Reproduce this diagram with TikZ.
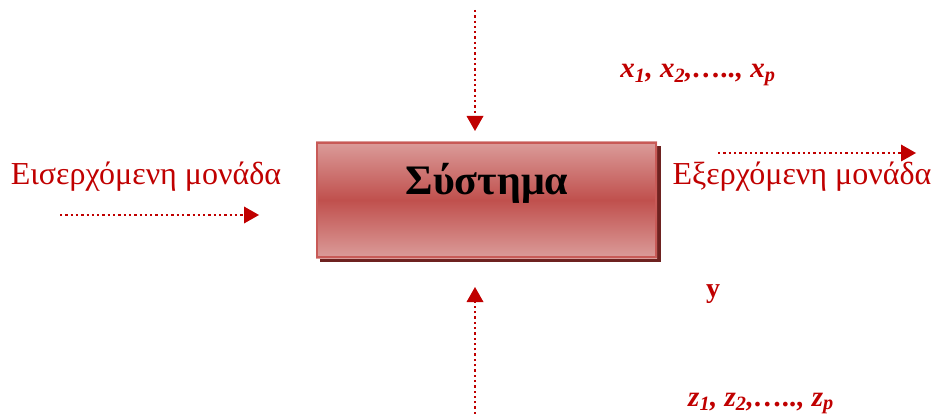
\documentclass[tikz,border=0pt]{standalone}
\usepackage{fontspec}
\setmainfont{Liberation Serif}
\usetikzlibrary{arrows.meta}
\definecolor{dred}{HTML}{C00000}
\definecolor{boxmid}{HTML}{C0504D}
\definecolor{boxlight}{HTML}{DB9C9A}
\definecolor{boxborder}{HTML}{C85A57}
\definecolor{shadowc}{HTML}{6E2220}
\tikzset{
  flow/.style={draw=dred, line width=2.3pt, dash pattern=on 2.3pt off 3pt,
    -{Triangle[length=15pt,width=17pt,fill=dred,line width=0pt]}},
  lbl/.style={text=dred, inner sep=0pt, anchor=base},
}
\begin{document}
\begin{tikzpicture}[x=1pt,y=-1pt]
\useasboundingbox (0,0) rectangle (934,414);
% box
\fill[shadowc] (320,146) rectangle (661,262);
\shade[top color=boxlight, bottom color=boxlight, middle color=boxmid] (316,142) rectangle (657,258);
\draw[boxborder, line width=2pt] (317,143) rectangle (656,257);
\node[inner sep=0pt, anchor=base, font=\fontsize{42}{44}\selectfont\bfseries] (sys) at (487,195) {Σύστημα};
% labels
\node[lbl, font=\fontsize{32}{34}\selectfont] (in) at (146,185) {Εισερχόμενη μονάδα};
\node[lbl, font=\fontsize{32}{34}\selectfont] (out) at (802,185) {Εξερχόμενη μονάδα};
\node[lbl, font=\fontsize{29}{31}\selectfont\bfseries\itshape] (xs) at (698,78) {x\textsubscript{1}, x\textsubscript{2},…..,~x\textsubscript{p}};
\node[lbl, font=\fontsize{28}{30}\selectfont\bfseries] (y) at (713,297) {y};
\node[lbl, font=\fontsize{29}{31}\selectfont\bfseries\itshape] (zs) at (761,406) {z\textsubscript{1}, z\textsubscript{2},…..,~z\textsubscript{p}};
% arrows
\coordinate (a1s) at (60,215); \coordinate (a1e) at (259,215);
\coordinate (a2s) at (718,153); \coordinate (a2e) at (916,153);
\coordinate (a3s) at (475,10); \coordinate (a3e) at (475,131);
\coordinate (a4s) at (475,414); \coordinate (a4e) at (475,287);
\draw[flow] (a1s) -- (a1e);
\draw[flow] (a2s) -- (a2e);
\draw[flow] (a3s) -- (a3e);
\draw[flow] (a4s) -- (a4e);
\end{tikzpicture}
\end{document}
